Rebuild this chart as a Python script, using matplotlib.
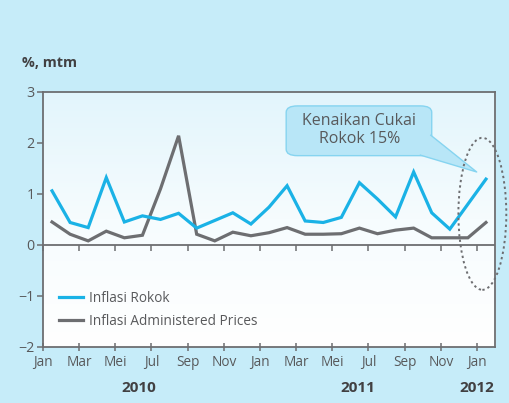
import numpy as np
import matplotlib.pyplot as plt
from matplotlib.patches import Ellipse, FancyBboxPatch, Polygon
from matplotlib.colors import LinearSegmentedColormap
from matplotlib.transforms import blended_transform_factory

plt.rcParams['font.family'] = ['Open Sans', 'DejaVu Sans']

# monthly data Jan 2010 .. Jan 2012 (%, mtm)
rokok = [1.06, 0.44, 0.34, 1.32, 0.45, 0.57, 0.50, 0.62, 0.33, 0.48, 0.63, 0.41,
         0.74, 1.16, 0.47, 0.44, 0.54, 1.22, 0.90, 0.55, 1.43, 0.63, 0.31, 0.80,
         1.29]
administered = [0.45, 0.21, 0.08, 0.27, 0.14, 0.19, 1.10, 2.14, 0.21, 0.08, 0.25, 0.18,
                0.24, 0.34, 0.21, 0.21, 0.22, 0.33, 0.22, 0.29, 0.33, 0.14, 0.14, 0.14,
                0.44]
month_labels = ['Jan', 'Mar', 'Mei', 'Jul', 'Sep', 'Nov',
                'Jan', 'Mar', 'Mei', 'Jul', 'Sep', 'Nov', 'Jan']
years = ['2010', '2011', '2012']
year_pos = [4.8, 16.9, 23.5]

bg = '#c6ecf9'
axis_col = '#6d6e71'
text_col = '#58595b'
blue = '#1ab2e6'
gray = '#6d6e71'
fs = 9.8

fig = plt.figure(figsize=(5.1, 4.03), dpi=100, facecolor=bg)
ax = fig.add_axes([0.0843, 0.139, 0.8863, 0.633])

x = np.arange(len(rokok))

# gradient plot background
grad = np.linspace(0, 1, 256).reshape(-1, 1)
cmap = LinearSegmentedColormap.from_list('bgc', ['#ffffff', '#f6fcfe', '#e2f5fc'])
ax.imshow(grad, cmap=cmap, aspect='auto', extent=[0, 1, 0, 1], origin='lower',
          transform=ax.transAxes, zorder=0)

ax.plot(x, rokok, color=blue, lw=2.3, label='Inflasi Rokok', zorder=3,
        solid_joinstyle='miter')
ax.plot(x, administered, color=gray, lw=2.3, label='Inflasi Administered Prices', zorder=2,
        solid_joinstyle='miter')
ax.axhline(0, color=axis_col, lw=1.3, zorder=2)

ax.set_xlim(-0.5, 24.5)
ax.set_ylim(-2, 3)
ax.set_yticks([-2, -1, 0, 1, 2, 3])
ax.set_xticks(np.arange(-0.5, 24, 2))
ax.set_xticklabels(month_labels)
for s in ax.spines.values():
    s.set_color(axis_col)
    s.set_linewidth(1.3)
ax.tick_params(axis='x', direction='inout', length=6, width=1.1, color=axis_col,
               labelcolor=text_col, labelsize=fs, pad=3)
ax.tick_params(axis='y', direction='out', length=4, width=1.1, color=axis_col,
               labelcolor=text_col, labelsize=fs + 0.5, pad=2)

# ticks hanging from the zero line
sec = ax.secondary_xaxis(0.4)
sec.set_xticks(np.arange(-0.5, 24, 2))
sec.tick_params(direction='out', length=4, width=1.1, color=axis_col, labelbottom=False)
sec.spines['bottom'].set_visible(False)

ax.legend(loc='lower left', bbox_to_anchor=(0.008, 0.022), frameon=False, fontsize=fs,
          labelcolor=text_col, handlelength=1.8, handletextpad=0.45, labelspacing=0.6)

tr = blended_transform_factory(ax.transData, fig.transFigure)
for yr, p in zip(years, year_pos):
    fig.text(p, 0.037, yr, transform=tr, ha='center', va='center', fontsize=11,
             fontweight='bold', color='#414042')

fig.text(0.043, 0.843, '%, mtm', ha='left', va='center', fontsize=10.3, fontweight='bold',
         color='#414042')

# callout
box = FancyBboxPatch((0.538, 0.75), 0.322, 0.195, boxstyle='round,pad=0,rounding_size=0.025',
                     transform=ax.transAxes, facecolor='#b8e6f7', edgecolor='#86d4f0',
                     lw=1.0, zorder=5, clip_on=False)
ax.add_patch(box)
tail = Polygon([(0.835, 0.752), (0.858, 0.83), (0.9595, 0.686)], closed=True,
               transform=ax.transAxes, facecolor='#b8e6f7', edgecolor='none', zorder=5)
ax.add_patch(tail)
ax.plot([0.858, 0.9595, 0.835], [0.83, 0.686, 0.752], transform=ax.transAxes,
        color='#86d4f0', lw=1.0, zorder=5)
ax.text(0.70, 0.85, 'Kenaikan Cukai\nRokok 15%', transform=ax.transAxes, ha='center',
        va='center', fontsize=11.5, color=text_col, zorder=6, linespacing=1.15)

ell = Ellipse((0.972, 0.522), 0.106, 0.596, transform=ax.transAxes, fill=False,
              edgecolor='#6d6e71', linestyle=(0, (1.2, 1.6)), lw=1.4, zorder=6, clip_on=False)
ax.add_patch(ell)

fig.savefig('out.png', dpi=100, facecolor=bg)
